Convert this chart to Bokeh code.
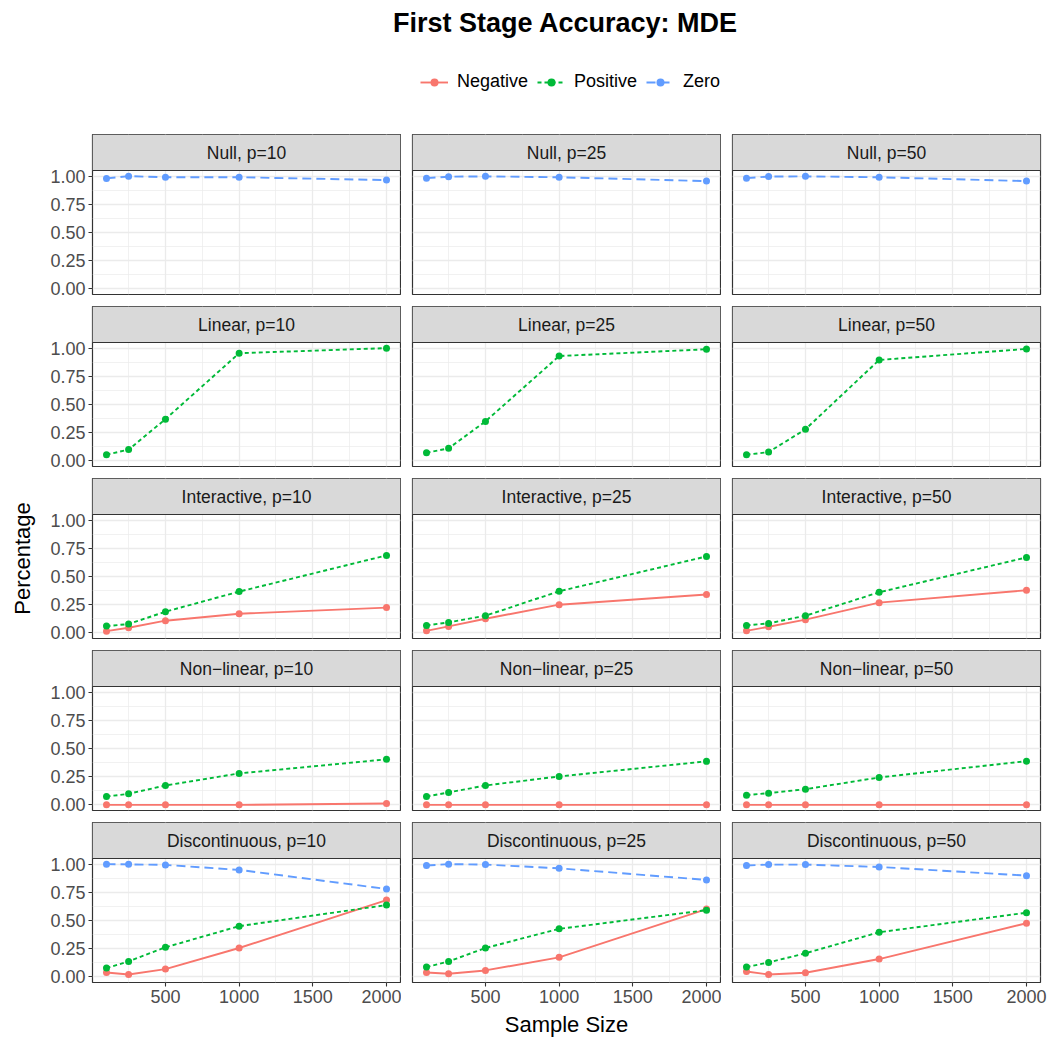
from bokeh.plotting import figure
from bokeh.layouts import column, row
from bokeh.models import (Range1d, FixedTicker, PrintfTickFormatter, Label,
                          Legend, LegendItem, BoxAnnotation, Span)
from bokeh.embed import file_html
from bokeh.resources import INLINE

FONT = "Liberation Sans"

# ---- data -------------------------------------------------------------
sample_sizes = [100, 250, 500, 1000, 2000]
dims = [10, 25, 50]
scenarios = ["Null", "Linear", "Interactive", "Non\u2212linear", "Discontinuous"]

null_zero = {10: [0.980, 1.000, 0.990, 0.990, 0.965],
             25: [0.982, 0.995, 0.998, 0.990, 0.956],
             50: [0.982, 0.996, 0.998, 0.990, 0.956]}

linear_pos = {10: [0.055, 0.100, 0.370, 0.955, 1.000],
              25: [0.072, 0.111, 0.350, 0.930, 0.990],
              50: [0.054, 0.078, 0.280, 0.895, 0.993]}

interactive_pos = {10: [0.060, 0.078, 0.188, 0.366, 0.687],
                   25: [0.066, 0.093, 0.152, 0.369, 0.678],
                   50: [0.066, 0.084, 0.152, 0.360, 0.669]}
interactive_neg = {10: [0.015, 0.045, 0.108, 0.170, 0.224],
                   25: [0.018, 0.057, 0.125, 0.250, 0.340],
                   50: [0.018, 0.054, 0.117, 0.268, 0.378]}

nonlinear_pos = {10: [0.074, 0.098, 0.172, 0.279, 0.404],
                 25: [0.074, 0.110, 0.172, 0.252, 0.386],
                 50: [0.086, 0.104, 0.139, 0.243, 0.388]}
nonlinear_neg = {10: [0.000, 0.000, 0.000, 0.000, 0.012],
                 25: [0.000, 0.000, 0.000, 0.000, 0.000],
                 50: [0.000, 0.000, 0.000, 0.000, 0.000]}

disc_zero = {10: [1.000, 0.998, 0.993, 0.949, 0.780],
             25: [0.988, 1.000, 0.996, 0.963, 0.860],
             50: [0.988, 0.996, 0.996, 0.975, 0.898]}
disc_pos = {10: [0.078, 0.137, 0.262, 0.450, 0.637],
            25: [0.087, 0.137, 0.256, 0.426, 0.592],
            50: [0.087, 0.128, 0.209, 0.396, 0.569]}
disc_neg = {10: [0.039, 0.021, 0.069, 0.256, 0.681],
            25: [0.039, 0.027, 0.057, 0.173, 0.601],
            50: [0.048, 0.021, 0.036, 0.158, 0.476]}

series_names = ["Negative", "Positive", "Zero"]
series_colors = {"Negative": "#F8766D", "Positive": "#00BA38", "Zero": "#619CFF"}
series_dash = {"Negative": "solid", "Positive": "4 3", "Zero": "9 5"}

panel_series = {
    "Null": {"Zero": null_zero},
    "Linear": {"Positive": linear_pos},
    "Interactive": {"Negative": interactive_neg, "Positive": interactive_pos},
    "Non\u2212linear": {"Negative": nonlinear_neg, "Positive": nonlinear_pos},
    "Discontinuous": {"Negative": disc_neg, "Positive": disc_pos, "Zero": disc_zero},
}

y_ticks = [0, 0.25, 0.5, 0.75, 1.0]
y_minor = [0.125, 0.375, 0.625, 0.875]
x_ticks = [500, 1000, 1500, 2000]
x_minor = [250, 750, 1250, 1750]

# ---- geometry ---------------------------------------------------------
PANEL_W, PANEL_H, STRIP_H, GAP = 308, 124, 36, 11
LEFT, RIGHT, TOP, BOTTOM = 92, 10, 133, 68
col_left = [LEFT, GAP, GAP]
col_right = [1, 1, RIGHT]
col_width = [col_left[i] + PANEL_W + col_right[i] for i in range(3)]

Y_LO, Y_HI = -0.05, 1.05                       # expanded data range
px_per_unit = PANEL_H / (Y_HI - Y_LO)
Y_TOP = Y_HI + STRIP_H / px_per_unit           # strip sits above the data area


def panel_fig(ri, ci, scen, dim):
    last = ri == len(scenarios) - 1
    bottom = BOTTOM if last else GAP
    p = figure(width=col_width[ci], height=1 + STRIP_H + PANEL_H + bottom,
               output_backend="svg", toolbar_location=None,
               min_border_left=col_left[ci], min_border_right=col_right[ci],
               min_border_top=1, min_border_bottom=bottom,
               x_range=Range1d(5, 2095), y_range=Range1d(Y_LO, Y_TOP),
               border_fill_color="white", background_fill_color="white")
    p.outline_line_color = "#333333"
    p.outline_line_width = 1.2

    p.xgrid.ticker = FixedTicker(ticks=x_ticks, minor_ticks=x_minor)
    p.ygrid.ticker = FixedTicker(ticks=y_ticks, minor_ticks=y_minor)
    for g in (p.xgrid, p.ygrid):
        g.grid_line_color = "#EBEBEB"
        g.grid_line_width = 1.3
        g.minor_grid_line_color = "#EBEBEB"
        g.minor_grid_line_width = 0.7

    for ax in (p.xaxis, p.yaxis):
        ax.axis_line_color = None
        ax.major_tick_line_color = "#333333"
        ax.major_tick_line_width = 1.1
        ax.major_tick_out = 4
        ax.major_tick_in = 0
        ax.minor_tick_line_color = None
        ax.major_label_text_font = FONT
        ax.major_label_text_font_size = "18px"
        ax.major_label_text_color = "#4D4D4D"
        ax.major_label_standoff = 3
        ax.axis_label_text_font = FONT
        ax.axis_label_text_font_size = "22px"
        ax.axis_label_text_font_style = "normal"
        ax.axis_label_text_color = "black"

    p.xaxis.ticker = FixedTicker(ticks=x_ticks)
    p.yaxis.ticker = FixedTicker(ticks=y_ticks)
    p.yaxis.formatter = PrintfTickFormatter(format="%.2f")
    p.xaxis.visible = last
    p.yaxis.visible = ci == 0
    if last and ci == 1:
        p.xaxis.axis_label = "Sample Size"
        p.xaxis.axis_label_standoff = 6
    if ci == 0 and scen == "Interactive":
        p.yaxis.axis_label = "Percentage"
        p.yaxis.axis_label_standoff = 12

    series = panel_series[scen]
    for name in series_names:
        if name in series:
            p.line(sample_sizes, series[name][dim], line_color=series_colors[name],
                   line_width=1.9, line_dash=series_dash[name])
    for name in series_names:
        if name in series:
            p.scatter(sample_sizes, series[name][dim], size=7,
                      fill_color=series_colors[name], line_color=None)

    # facet strip
    p.add_layout(BoxAnnotation(bottom=Y_HI, fill_color="#D9D9D9", fill_alpha=1,
                               line_color=None))
    p.add_layout(Span(location=Y_HI, dimension="width", line_color="#333333",
                      line_width=1.2))
    p.add_layout(Label(x=1050, y=(Y_HI + Y_TOP) / 2, text=f"{scen}, p={dim}",
                       text_align="center", text_baseline="middle",
                       text_font=FONT, text_font_size="17.5px",
                       text_color="#1A1A1A"))
    return p


# ---- header: title and legend -----------------------------------------
head = figure(width=1050, height=TOP, output_backend="svg", toolbar_location=None,
              min_border_left=0, min_border_right=0, min_border_top=0,
              min_border_bottom=0, x_range=Range1d(-3000, -1950),
              y_range=Range1d(0, 1), border_fill_color="white")
head.axis.visible = False
head.grid.visible = False
head.outline_line_color = None
head.add_layout(Label(x=565, y=TOP - 22, x_units="screen", y_units="screen",
                      text="First Stage Accuracy: MDE", text_align="center",
                      text_baseline="middle", text_font=FONT,
                      text_font_size="27px", text_font_style="bold",
                      text_color="black"))
legend_data = {"Negative": disc_neg[10], "Positive": disc_pos[10], "Zero": disc_zero[10]}
items = []
for name in series_names:
    lr = head.line(sample_sizes, legend_data[name], line_color=series_colors[name],
                   line_width=1.9, line_dash=series_dash[name])
    sr = head.scatter(sample_sizes, legend_data[name], size=7,
                      fill_color=series_colors[name], line_color=None)
    items.append(LegendItem(label=name, renderers=[lr, sr]))
legend = Legend(items=items, orientation="horizontal", location=(420, 41),
                glyph_width=28, glyph_height=20, label_standoff=9, spacing=9,
                padding=0, margin=0, border_line_color=None,
                background_fill_alpha=0, label_text_font=FONT,
                label_text_font_size="18px", label_text_color="black",
                label_height=20)
head.add_layout(legend)

# ---- facet grid ---------------------------------------------------------
rows = [head]
for ri, scen in enumerate(scenarios):
    rows.append(row([panel_fig(ri, ci, scen, d) for ci, d in enumerate(dims)]))

page = column(rows)

open("out.html", "w").write(file_html(page, INLINE))
